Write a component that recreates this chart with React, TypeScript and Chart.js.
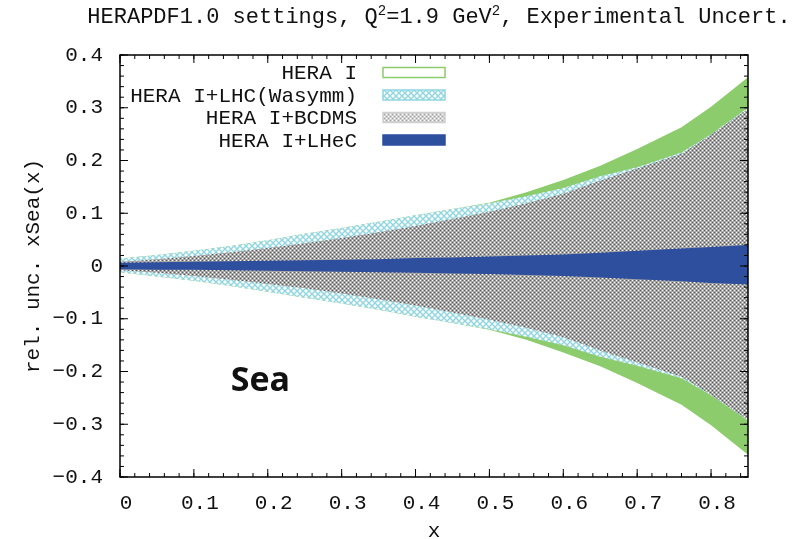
import React, { useEffect, useRef } from "react";
import { Chart, registerables } from "chart.js";

Chart.register(...registerables);

// ---------- data ----------
const xValues = [0, 0.05, 0.1, 0.15, 0.2, 0.25, 0.3, 0.35, 0.4, 0.45, 0.5, 0.55, 0.6, 0.65, 0.7, 0.76, 0.8, 0.85];

const heraUpper = [0.014, 0.021, 0.029, 0.038, 0.049, 0.061, 0.072, 0.084, 0.096, 0.108, 0.120, 0.140, 0.163, 0.190, 0.222, 0.263, 0.302, 0.358];
const heraLower = [-0.012, -0.020, -0.028, -0.038, -0.049, -0.060, -0.071, -0.083, -0.096, -0.108, -0.121, -0.140, -0.164, -0.190, -0.222, -0.263, -0.302, -0.358];

const lhcUpper = [0.014, 0.021, 0.029, 0.038, 0.049, 0.061, 0.072, 0.084, 0.096, 0.108, 0.119, 0.132, 0.148, 0.170, 0.187, 0.215, 0.250, 0.300];
const lhcLower = [-0.012, -0.020, -0.028, -0.038, -0.049, -0.060, -0.071, -0.083, -0.096, -0.108, -0.120, -0.134, -0.150, -0.172, -0.189, -0.213, -0.245, -0.293];

const bcdmsUpper = [0.008, 0.013, 0.019, 0.026, 0.034, 0.043, 0.053, 0.064, 0.076, 0.089, 0.103, 0.119, 0.137, 0.162, 0.185, 0.213, 0.249, 0.298];
const bcdmsLower = [-0.008, -0.013, -0.019, -0.026, -0.034, -0.042, -0.052, -0.063, -0.075, -0.088, -0.102, -0.117, -0.135, -0.160, -0.183, -0.210, -0.244, -0.292];

const lhecUpper = [0.006, 0.007, 0.008, 0.009, 0.010, 0.011, 0.012, 0.013, 0.015, 0.016, 0.018, 0.020, 0.022, 0.025, 0.029, 0.033, 0.036, 0.040];
const lhecLower = [-0.006, -0.007, -0.007, -0.008, -0.009, -0.010, -0.011, -0.012, -0.013, -0.014, -0.015, -0.017, -0.019, -0.022, -0.025, -0.029, -0.032, -0.035];

const seriesNames = ["HERA I", "HERA I+LHC(Wasymm)", "HERA I+BCDMS", "HERA I+LHeC"];

const xTickValues = [0, 0.1, 0.2, 0.3, 0.4, 0.5, 0.6, 0.7, 0.8];
const yTickValues = [-0.4, -0.3, -0.2, -0.1, 0, 0.1, 0.2, 0.3, 0.4];
const xMinorStep = 0.02;
const yMinorStep = 0.02;

const titleParts: { text: string; sup?: boolean }[] = [
  { text: "HERAPDF1.0 settings, Q" },
  { text: "2", sup: true },
  { text: "=1.9 GeV" },
  { text: "2", sup: true },
  { text: ", Experimental Uncert." },
];
const yAxisTitle = "rel. unc. xSea(x)";
const xAxisTitle = "x";
const annotationText = "Sea";
const annotationX = 0.19;
const annotationY = -0.218;

// ---------- styles ----------
const GREEN = "#8dcc6c";
const CYAN = "#8fd6e0";
const BLUE = "#2e4e9e";
const MONO = "'Liberation Mono', 'DejaVu Sans Mono', monospace";

function makeCrossPattern(): CanvasPattern {
  const c = document.createElement("canvas");
  c.width = 6;
  c.height = 6;
  const g = c.getContext("2d")!;
  g.fillStyle = "#ffffff";
  g.fillRect(0, 0, 6, 6);
  g.strokeStyle = CYAN;
  g.lineWidth = 1.4;
  g.beginPath();
  g.moveTo(-1, -1);
  g.lineTo(7, 7);
  g.moveTo(7, -1);
  g.lineTo(-1, 7);
  g.stroke();
  return g.createPattern(c, "repeat")!;
}

function makeDotPattern(base: string, light: string, dark: string): CanvasPattern {
  const c = document.createElement("canvas");
  c.width = 4;
  c.height = 4;
  const g = c.getContext("2d")!;
  g.fillStyle = base;
  g.fillRect(0, 0, 4, 4);
  g.fillStyle = light;
  g.fillRect(0, 0, 1, 1);
  g.fillRect(2, 2, 1, 1);
  g.fillStyle = dark;
  g.fillRect(2, 0, 1, 1);
  g.fillRect(0, 2, 1, 1);
  return g.createPattern(c, "repeat")!;
}

const pts = (ys: number[]) => xValues.map((x, i) => ({ x, y: ys[i] }));
const fmt = (v: any) => (Math.abs(v) < 1e-9 ? "0" : Number(v).toFixed(1).replace("-", "\u2212"));

export default function App() {
  const ref = useRef<HTMLCanvasElement>(null);

  useEffect(() => {
    document.body.style.margin = "0";
    const canvas = ref.current!;
    const cross = makeCrossPattern();
    const dots = makeDotPattern("#a6a6a6", "#ffffff", "#5a5a5a");
    const dotsLight = makeDotPattern("#d2d2d2", "#ffffff", "#9a9a9a");

    const legendStyles = [
      { fill: "#ffffff", stroke: GREEN },
      { fill: cross, stroke: CYAN },
      { fill: dotsLight, stroke: "#cfcfcf" },
      { fill: BLUE, stroke: BLUE },
    ];

    const band = (label: string, ys: number[], bg: any, fill: any) => ({
      label,
      data: pts(ys),
      borderWidth: 0,
      borderColor: "rgba(0,0,0,0)",
      backgroundColor: bg,
      pointRadius: 0,
      tension: 0,
      fill,
    });

    const framePlugin = {
      id: "frameTicks",
      afterDatasetsDraw(chart: any) {
        const { ctx, chartArea: a, scales } = chart;
        const x = scales.x;
        const y = scales.y;
        ctx.save();
        ctx.strokeStyle = "#000";
        ctx.lineWidth = 1;
        const seg = (x1: number, y1: number, x2: number, y2: number) => {
          ctx.beginPath();
          ctx.moveTo(x1, y1);
          ctx.lineTo(x2, y2);
          ctx.stroke();
        };
        for (let v = x.min; v <= x.max + 1e-9; v += xMinorStep) {
          const px = x.getPixelForValue(v);
          seg(px, a.bottom, px, a.bottom - 4);
          seg(px, a.top, px, a.top + 4);
        }
        for (let v = y.min; v <= y.max + 1e-9; v += yMinorStep) {
          const py = y.getPixelForValue(v);
          seg(a.left, py, a.left + 4, py);
          seg(a.right, py, a.right - 4, py);
        }
        for (const v of xTickValues) {
          const px = x.getPixelForValue(v);
          seg(px, a.bottom, px, a.bottom - 8);
          seg(px, a.top, px, a.top + 8);
        }
        for (const v of yTickValues) {
          const py = y.getPixelForValue(v);
          seg(a.left, py, a.left + 8, py);
          seg(a.right, py, a.right - 8, py);
        }
        ctx.lineWidth = 1.5;
        ctx.strokeRect(a.left, a.top, a.right - a.left, a.bottom - a.top);

        // annotation
        ctx.fillStyle = "#111";
        ctx.font = "bold 34px 'Open Sans', 'Noto Sans', sans-serif";
        ctx.textAlign = "center";
        ctx.textBaseline = "middle";
        ctx.fillText(annotationText, x.getPixelForValue(annotationX), y.getPixelForValue(annotationY));

        // legend
        ctx.font = `21px ${MONO}`;
        ctx.textAlign = "right";
        ctx.textBaseline = "middle";
        seriesNames.forEach((name, i) => {
          const cy = a.top + 17.5 + i * 22.5;
          ctx.fillStyle = "#111";
          ctx.fillText(name, a.left + 237, cy + 1);
          const st = legendStyles[i];
          ctx.fillStyle = st.fill;
          ctx.fillRect(a.left + 263, cy - 5, 62, 10);
          ctx.strokeStyle = st.stroke;
          ctx.lineWidth = 1.5;
          ctx.strokeRect(a.left + 263, cy - 5, 62, 10);
        });

        // title
        const big = `22px ${MONO}`;
        const small = `14px ${MONO}`;
        let total = 0;
        for (const p of titleParts) {
          ctx.font = p.sup ? small : big;
          total += ctx.measureText(p.text).width;
        }
        let tx = 439 - total / 2;
        ctx.textAlign = "left";
        ctx.textBaseline = "alphabetic";
        ctx.fillStyle = "#111";
        for (const p of titleParts) {
          ctx.font = p.sup ? small : big;
          ctx.fillText(p.text, tx, p.sup ? 15 : 23);
          tx += ctx.measureText(p.text).width;
        }
        ctx.restore();
      },
    };

    const chart = new Chart(canvas, {
      type: "line",
      data: {
        datasets: [
          band(seriesNames[3], lhecUpper, BLUE, "+1"),
          band(seriesNames[3] + " low", lhecLower, BLUE, false),
          band(seriesNames[2], bcdmsUpper, dots, "+1"),
          band(seriesNames[2] + " low", bcdmsLower, dots, false),
          band(seriesNames[1], lhcUpper, cross, "+1"),
          band(seriesNames[1] + " low", lhcLower, cross, false),
          band(seriesNames[0], heraUpper, GREEN, "+1"),
          band(seriesNames[0] + " low", heraLower, GREEN, false),
        ] as any,
      },
      plugins: [framePlugin],
      options: {
        responsive: false,
        animation: false,
        devicePixelRatio: 1,
        layout: { padding: { top: 55, right: 49, left: 0, bottom: 0 } },
        plugins: {
          legend: { display: false },
          tooltip: { enabled: false },
          title: { display: false },
        },
        scales: {
          x: {
            type: "linear",
            min: 0,
            max: 0.85,
            grid: { display: false, drawTicks: false },
            border: { display: false },
            afterBuildTicks: (s: any) => {
              s.ticks = xTickValues.map((v) => ({ value: v }));
            },
            afterFit: (s: any) => {
              s.height = 62;
            },
            ticks: {
              color: "#111",
              font: { family: MONO, size: 21 },
              padding: 14,
              labelOffset: 6,
              maxRotation: 0,
              autoSkip: false,
              callback: fmt,
            },
            title: {
              display: true,
              text: xAxisTitle,
              color: "#111",
              font: { family: MONO, size: 21, lineHeight: 0.7 },
              padding: { top: 0, bottom: 0 },
            },
          },
          y: {
            type: "linear",
            min: -0.4,
            max: 0.4,
            grid: { display: false, drawTicks: false },
            border: { display: false },
            afterBuildTicks: (s: any) => {
              s.ticks = yTickValues.map((v) => ({ value: v }));
            },
            afterFit: (s: any) => {
              s.width = 120;
            },
            ticks: {
              color: "#111",
              font: { family: MONO, size: 21 },
              padding: 17,
              autoSkip: false,
              callback: fmt,
            },
            title: {
              display: true,
              text: yAxisTitle,
              color: "#111",
              font: { family: MONO, size: 21, lineHeight: 1.2 },
              padding: { top: 21, bottom: 0 },
            },
          },
        },
      },
    });
    return () => chart.destroy();
  }, []);

  return (
    <div style={{ width: 797, height: 539 }}>
      <canvas ref={ref} width={797} height={539} style={{ display: "block" }} />
    </div>
  );
}
